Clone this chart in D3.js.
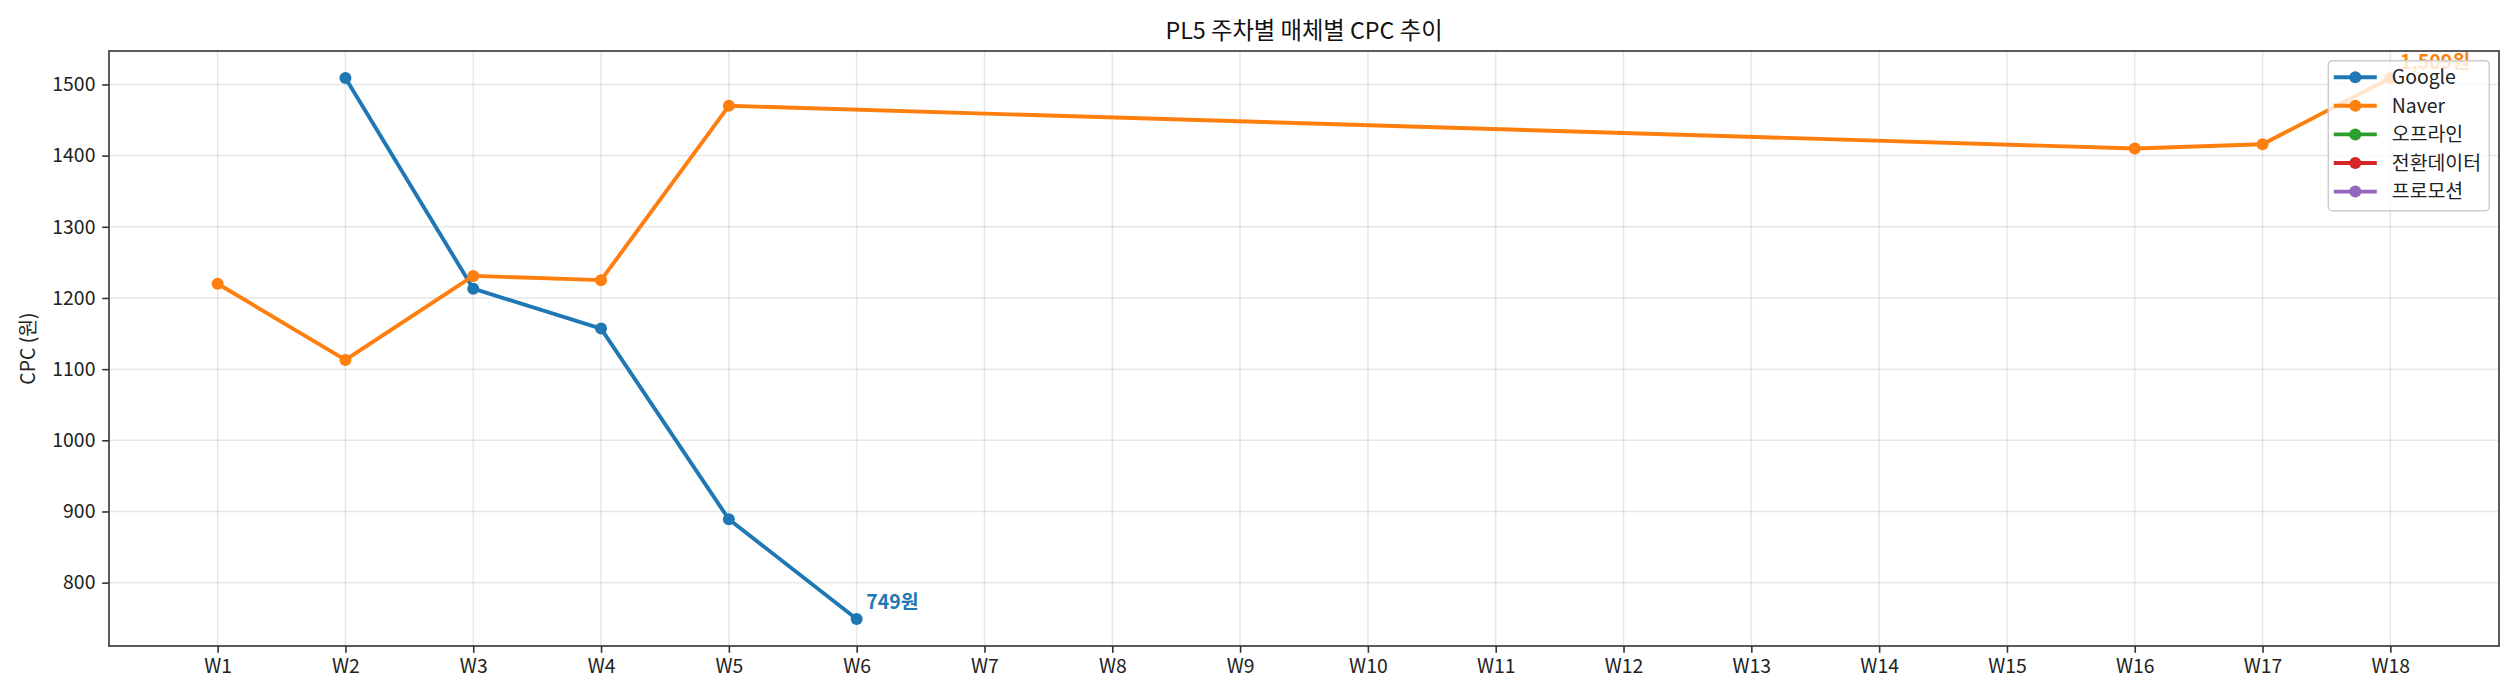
<!DOCTYPE html>
<html>
<head>
<meta charset="utf-8">
<script src="https://cdn.jsdelivr.net/npm/d3@7"></script>
<style>
  body { margin: 0; background: #fff; }
  svg text { font-family: "Noto Sans CJK KR", "Noto Sans", sans-serif; }
</style>
</head>
<body>
<svg id="chart" width="2520" height="700"></svg>
<script>
// weekly CPC per channel, null = no data that week
var weeks = ['W1','W2','W3','W4','W5','W6','W7','W8','W9','W10','W11','W12','W13','W14','W15','W16','W17','W18'];
var googleCpc = [null, 1509, 1213, 1157, 889, 749, null, null, null, null, null, null, null, null, null, null, null, null];
var naverCpc  = [1220, 1113, 1231, 1225, 1470, null, null, null, null, null, null, null, null, null, null, 1410, 1416, 1509];
var channels = ['Google', 'Naver', '오프라인', '전환데이터', '프로모션'];
var channelColors = ['#1f77b4', '#ff7f0e', '#2ca02c', '#d62728', '#9467bd'];
var yTicks = [800, 900, 1000, 1100, 1200, 1300, 1400, 1500];

var series = [
  {name: 'Google', values: googleCpc},
  {name: 'Naver', values: naverCpc}
];

var margin = {top: 51, right: 21, bottom: 54, left: 109};
var width = 2520 - margin.left - margin.right;
var height = 700 - margin.top - margin.bottom;
var fontPx = 19.4;   // 10pt at 140 dpi

var svg = d3.select('#chart');
var g = svg.append('g').attr('transform', 'translate(' + margin.left + ',' + margin.top + ')');

var x = d3.scalePoint().domain(weeks).range([0, width]).padding(0.85);

// matplotlib style 5% margin on the data range
var allVals = googleCpc.concat(naverCpc).filter(function(v) { return v != null; });
var yMin = d3.min(allVals), yMax = d3.max(allVals);
var yPad = (yMax - yMin) * 0.05;
var y = d3.scaleLinear().domain([yMin - yPad, yMax + yPad]).range([height, 0]);

// grid
g.append('g').selectAll('line').data(weeks).enter().append('line')
  .attr('x1', function(d) { return x(d); }).attr('x2', function(d) { return x(d); })
  .attr('y1', 0).attr('y2', height)
  .style('stroke', '#b0b0b0').style('stroke-opacity', 0.3).style('stroke-width', 1.5);
g.append('g').selectAll('line').data(yTicks).enter().append('line')
  .attr('x1', 0).attr('x2', width)
  .attr('y1', function(d) { return y(d); }).attr('y2', function(d) { return y(d); })
  .style('stroke', '#b0b0b0').style('stroke-opacity', 0.3).style('stroke-width', 1.5);

// axes
var xAxis = g.append('g').attr('transform', 'translate(0,' + height + ')')
  .call(d3.axisBottom(x).tickSizeOuter(0).tickSize(6.8).tickPadding(6.8));
var yAxis = g.append('g')
  .call(d3.axisLeft(y).tickValues(yTicks).tickFormat(d3.format('d'))
    .tickSizeOuter(0).tickSize(6.8).tickPadding(6.8));
[xAxis, yAxis].forEach(function(a) {
  a.select('.domain').remove();
  a.selectAll('.tick line').style('stroke', '#333').style('stroke-width', 1.6);
  a.selectAll('.tick text').style('font-size', fontPx + 'px').style('fill', '#222');
});

// frame
g.append('rect').attr('width', width).attr('height', height)
  .style('fill', 'none').style('stroke', '#333').style('stroke-width', 1.6);

// lines + markers
var line = d3.line()
  .x(function(d) { return x(d.week); })
  .y(function(d) { return y(d.value); });

var plot = g.append('g');
series.forEach(function(s) {
  var color = channelColors[channels.indexOf(s.name)];
  var pts = s.values.map(function(v, i) { return {week: weeks[i], value: v}; })
    .filter(function(d) { return d.value != null; });
  plot.append('path').datum(pts).attr('d', line)
    .style('fill', 'none').style('stroke', color).style('stroke-width', 3.9)
    .style('stroke-linejoin', 'round');
  plot.selectAll(null).data(pts).enter().append('circle')
    .attr('cx', function(d) { return x(d.week); })
    .attr('cy', function(d) { return y(d.value); })
    .attr('r', 6)
    .style('fill', color);
  // label the last point
  var last = pts[pts.length - 1];
  plot.append('text')
    .attr('x', x(last.week) + 9.7)
    .attr('y', y(last.value) - 9.5)
    .text(d3.format(',')(last.value) + '원')
    .style('font-size', fontPx + 'px').style('font-weight', 'bold').style('fill', color);
});

// title and y label
svg.append('text')
  .attr('x', margin.left + width / 2).attr('y', 39)
  .attr('text-anchor', 'middle')
  .text('PL5 주차별 매체별 CPC 추이')
  .style('font-size', '23.3px').style('fill', '#111');
svg.append('text')
  .attr('transform', 'translate(35,' + (margin.top + height / 2) + ') rotate(-90)')
  .attr('text-anchor', 'middle')
  .text('CPC (원)')
  .style('font-size', fontPx + 'px').style('fill', '#222');

// legend, upper right
var legW = 161, legH = 150;
var leg = g.append('g').attr('transform', 'translate(' + (width - 9.7 - legW) + ',' + 9.7 + ')');
leg.append('rect').attr('width', legW).attr('height', legH).attr('rx', 4)
  .style('fill', '#fff').style('fill-opacity', 0.8)
  .style('stroke', '#cccccc').style('stroke-width', 1.5);
var rows = leg.selectAll('g.row').data(channels).enter().append('g')
  .attr('transform', function(d, i) { return 'translate(0,' + (16.5 + i * 28.6) + ')'; });
rows.append('line').attr('x1', 5.5).attr('x2', 48.5)
  .style('stroke', function(d, i) { return channelColors[i]; }).style('stroke-width', 3.9);
rows.append('circle').attr('cx', 27).attr('r', 6)
  .style('fill', function(d, i) { return channelColors[i]; });
rows.append('text').attr('x', 63.5).attr('dy', '0.35em')
  .text(function(d) { return d; })
  .style('font-size', fontPx + 'px').style('fill', '#222');
</script>
</body>
</html>
